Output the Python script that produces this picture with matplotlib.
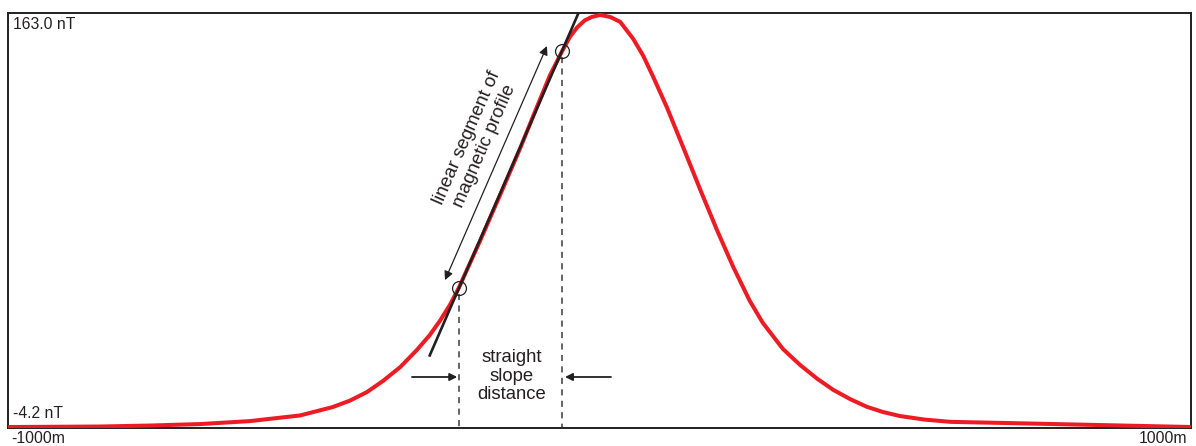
import numpy as np
import matplotlib
matplotlib.use('Agg')
from matplotlib import pyplot as plt

plt.rcParams['font.family'] = ['Liberation Sans', 'DejaVu Sans']

# magnetic profile
dist_m = [-1000, -845, -760, -675, -591, -506, -451, -422, -393, -366, -337, -309,
          -287, -270, -253, -238, -202, -168, -134, -101, -84, -63, -50, -38, -25,
          -13, 1, 18, 35, 57, 74, 90, 114, 141, 170, 199, 226, 254, 276, 310, 339,
          368, 395, 424, 452, 479, 508, 550, 593, 711, 846, 1000]
field_nT = [-4.2, -4.0, -3.6, -3.0, -1.8, 0.5, 3.9, 6.5, 10.0, 14.5, 20.1, 27.0,
            33.1, 38.8, 45.3, 52.2, 71.3, 90.0, 109.0, 128.5, 138.4, 148.4, 154.1,
            157.9, 160.8, 162.2, 163.0, 162.2, 160.2, 153.3, 146.4, 138.3, 125.5,
            109.6, 92.3, 75.5, 60.8, 47.0, 38.1, 27.5, 21.0, 15.4, 10.9, 7.1, 4.0,
            1.9, 0.25, -1.2, -2.1, -2.7, -3.4, -4.2]

# ends of the straight slope (circled points)
seg_x = [-237.5, -63.4]
seg_y = [52.2, 148.4]

x_labels = ['-1000m', '1000m']
y_labels = ['163.0 nT', '-4.2 nT']

red = '#ED1C24'
ink = '#231F20'

fig = plt.figure(figsize=(11.96, 4.46), dpi=100)
ax = fig.add_axes([8/1196, 18/446, 1183/1196, 415/446])
ax.set_xlim(-1000, 1000)
ax.set_ylim(-4.6, 163.8)
ax.set_xticks([]), ax.set_yticks([])
for s in ax.spines.values():
    s.set_linewidth(1.4)
    s.set_color(ink)

ax.plot(dist_m, field_nT, color=red, lw=2.9, solid_joinstyle='round', zorder=3)

# tangent line through the two circled points
slope = (seg_y[1] - seg_y[0]) / (seg_x[1] - seg_x[0])
tx = np.array([-287, -20])
ax.plot(tx, seg_y[0] + slope * (tx - seg_x[0]), color=ink, lw=1.9, zorder=4)
ax.plot(seg_x, seg_y, 'o', ms=10, mfc='none', mec=ink, mew=0.9, zorder=5)

# dashed verticals down to the base
for x, y in zip(seg_x, seg_y):
    ax.plot([x, x], [y - 2.5, -4.6], color='#3a3a3a', lw=1.1, ls=(0, (4, 3.5)), zorder=2)

# double arrow along the linear segment
ax.annotate('', xy=(seg_x[1] - 25.4, seg_y[1] + 2.0),
            xytext=(seg_x[0] - 23.7, seg_y[0] + 3.2),
            arrowprops=dict(arrowstyle='<|-|>', color=ink, lw=0.9,
                            mutation_scale=13, shrinkA=0, shrinkB=0))
ax.text(-209, 111.5, 'linear segment of\nmagnetic profile', rotation=66.4,
        rotation_mode='anchor', ha='center', va='center', fontsize=13.5,
        color=ink, linespacing=1.15)

# horizontal arrows marking the straight slope distance
arr_y = 16.1
ax.annotate('', xy=(seg_x[0] - 3, arr_y), xytext=(-317, arr_y),
            arrowprops=dict(arrowstyle='-|>', color=ink, lw=1.3,
                            mutation_scale=11, shrinkA=0, shrinkB=0))
ax.annotate('', xy=(seg_x[1] + 5, arr_y), xytext=(19.4, arr_y),
            arrowprops=dict(arrowstyle='-|>', color=ink, lw=1.3,
                            mutation_scale=11, shrinkA=0, shrinkB=0))
ax.text(-148, 16.5, 'straight\nslope\ndistance', ha='center', va='center',
        fontsize=13.3, color=ink, linespacing=1.12)

# range labels
ax.text(0.004, 0.991, y_labels[0], transform=ax.transAxes, ha='left', va='top',
        fontsize=11.3, color=ink)
ax.text(0.004, 0.024, y_labels[1], transform=ax.transAxes, ha='left', va='baseline',
        fontsize=11.3, color=ink)
ax.text(0.003, -0.008, x_labels[0], transform=ax.transAxes, ha='left', va='top',
        fontsize=11.3, color=ink)
ax.text(0.9966, -0.008, x_labels[1], transform=ax.transAxes, ha='right', va='top',
        fontsize=11.3, color=ink)

fig.savefig('out.png', dpi=100)
